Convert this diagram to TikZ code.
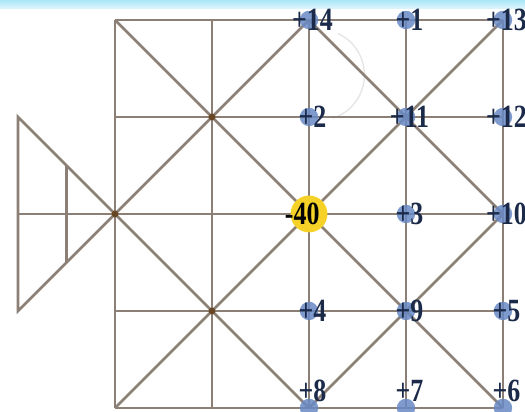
\documentclass[tikz,border=0pt]{standalone}
\usepackage{fontspec}
\newfontfamily\numfont{Liberation Serif}
\usepackage{tikz}
\usetikzlibrary{calc}
\usepackage{xcolor}
\definecolor{gridline}{RGB}{140,128,118}
\definecolor{numblue}{RGB}{27,42,73}
\definecolor{blobblue}{RGB}{104,138,196}
\definecolor{sunyellow}{RGB}{246,210,40}
\definecolor{bandcyan}{RGB}{170,230,248}

\begin{document}
\begin{tikzpicture}[
    line/.style={gridline, line width=0.8pt},
    numlab/.style={numblue, font=\numfont\bfseries\fontsize{9.5}{10}\selectfont, inner sep=0pt, xshift=1pt}
  ]
                    \useasboundingbox (-1.186,-0.041) rectangle (4.227,4.206);
                    % top band
                    \shade[top color=bandcyan, bottom color=bandcyan!40!white]
                        (-1.186,4.12) rectangle (4.227,4.206);

                    % grid points
                    \foreach \i in {0,...,4} {
                      \foreach \j in {0,...,4} {
                        \coordinate (g\i\j) at (\i,\j);
                      }
                    }
                    % tail points
                    \coordinate (t1) at (-1,3);
                    \coordinate (t2) at (-1,1);
                    \coordinate (t3) at (-1,2);
                    \coordinate (u1) at (-0.5,2.5);
                    \coordinate (u2) at (-0.5,1.5);

                    % faint arc
                    \draw[black!10, line width=0.4pt] (2.3,3.86) arc[start angle=65, end angle=-72, radius=0.47];

                    % straight lines of the grid
                    \foreach \j in {0,...,4}
                        \draw[line] (g0\j) -- (g4\j);
                    \foreach \i in {0,...,4}
                        \draw[line] (g\i0) -- (g\i4);

                    % diagonals (two X's on each half)
                    \draw[line] (g04) -- (g22);
                    \draw[line] (g24) -- (g02);
                    \draw[line] (g02) -- (g20);
                    \draw[line] (g22) -- (g00);
                    \draw[line] (g24) -- (g42);
                    \draw[line] (g44) -- (g22);
                    \draw[line] (g22) -- (g40);
                    \draw[line] (g42) -- (g20);

                    % tail
                    \draw[line] (g02) -- (t1) -- (t2) -- cycle;
                    \draw[line] (t3) -- (g02);
                    \draw[line] (u1) -- (u2);

                    % dark dots
                    \foreach \p in {g13,g02,g11}
                        \fill[brown!55!black] (\p) circle (0.035);

                    % yellow spot
                    \fill[sunyellow] (g22) circle (0.19);

                    % blue spots
                    \foreach \p in {g24,g34,g44,g23,g33,g43,g32,g42,g21,g31,g41,g20,g30,g40}
                        \fill[blobblue, opacity=0.85] (\p) circle (0.095);

                    % numbers
                    \foreach \i/\j/\t in {2/4/+14, 3/4/+1, 4/4/+13, 2/3/+2, 3/3/+11, 4/3/+12,
                                          3/2/+3, 4/2/+10, 2/1/+4, 3/1/+9, 4/1/+5}
                        \node[numlab] (n\i\j) at (g\i\j) {\scalebox{0.8}[1]{\t}};
                    \foreach \i/\t in {2/+8, 3/+7, 4/+6}
                        \node[numlab, yshift=5pt] (n\i0) at (g\i0) {\scalebox{0.8}[1]{\t}};
                    \node[numlab, black, xshift=-3pt] (n22) at (g22) {\scalebox{0.8}[1]{-40}};
                \end{tikzpicture}
\end{document}
